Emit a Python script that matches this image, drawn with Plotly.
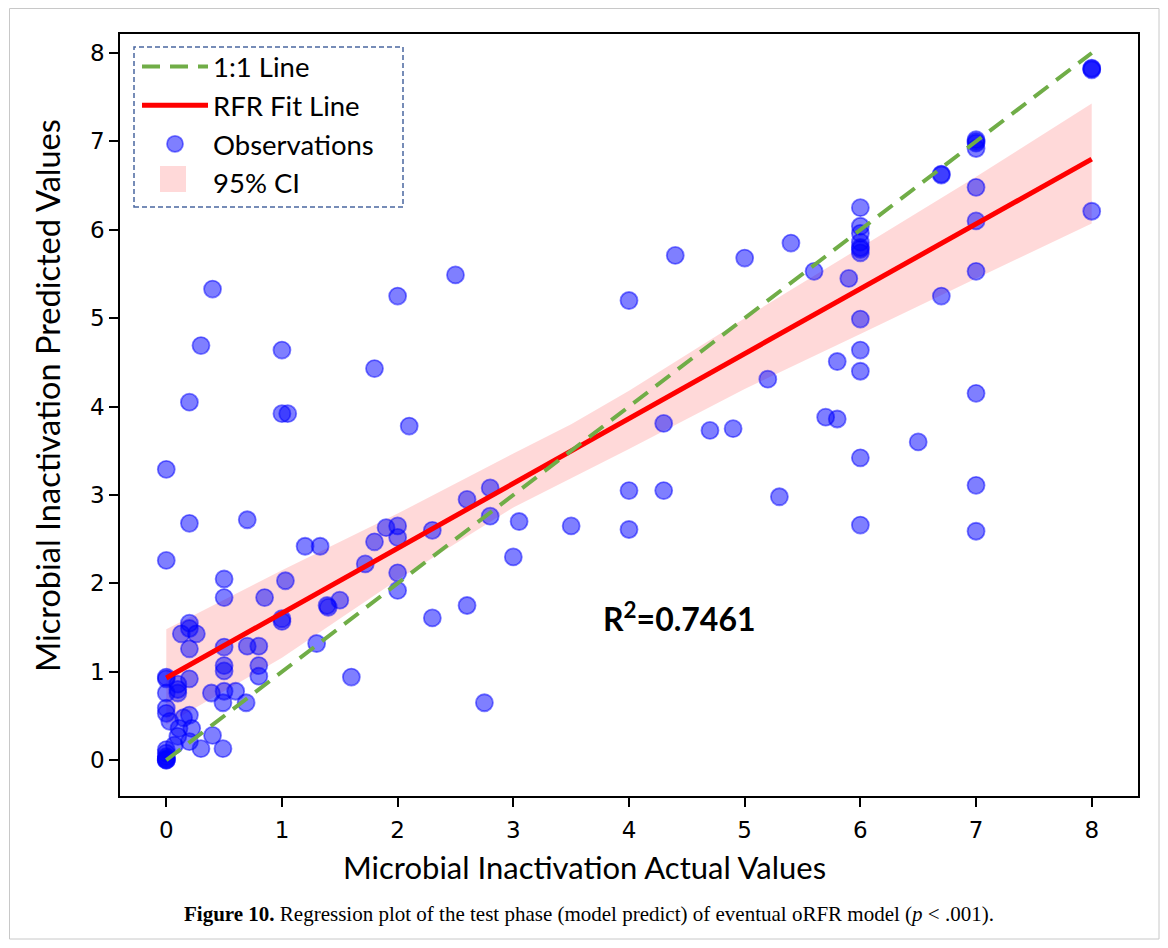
import plotly.graph_objects as go

# Observations (actual, predicted)
obs_x = [0, 0, 0, 0, 0, 0, 0, 0, 0, 0, 0, 0, 0, 0, 0.03,
         0.1, 0.1, 0.1, 0.11, 0.1, 0.07, 0.15, 0.2, 0.22, 0.2, 0.3, 0.4, 0.49,
         0.2, 0.13, 0.26, 0.2, 0.2, 0.2,
         0.39, 0.5, 0.6, 0.49, 0.69,
         0.5, 0.5, 0.5, 0.7, 0.8, 0.8, 0.8,
         0.5, 0.5, 0.85, 1.03, 1.0, 1.0,
         0.4, 0.3, 1.0, 0.2, 1.0, 1.05, 0.2, 0.7,
         1.2, 1.33, 1.3, 1.6, 1.39, 1.4, 1.5,
         1.72, 1.8, 1.9, 2.0, 2.0, 2.0, 2.0, 2.3, 2.3,
         2.0, 1.8, 2.1, 2.5,
         2.6, 2.8, 2.8, 3.05, 3.0, 3.5, 2.6, 2.75,
         4.0, 4.4, 5.0, 5.4, 5.6, 5.9,
         5.2, 5.8, 4.3, 4.7, 4.9, 5.7, 5.8,
         4.0, 4.3, 4.0, 5.3,
         6, 6, 6, 6, 6, 6, 6, 6, 6, 6, 6, 6,
         6.5, 6.7, 6.7, 6.7,
         7, 7, 7, 7, 7, 7, 7, 7, 7, 7,
         8, 8, 8, 8]
obs_y = [3.29, 2.26, 0.94, 0.92, 0.76, 0.59, 0.53, 0.12, 0.08, 0.04, 0.0, 0.0, 0.01, 0.02, 0.44,
         0.86, 0.8, 0.76, 0.36, 0.27, 0.17, 0.48, 0.51, 0.36, 0.21, 0.13, 0.28, 0.13,
         0.92, 1.43, 1.43, 1.55, 1.49, 1.26,
         0.76, 0.78, 0.78, 0.65, 0.65,
         1.07, 1.01, 1.28, 1.29, 1.29, 1.07, 0.95,
         2.05, 1.84, 1.84, 2.03, 1.6, 1.57,
         5.33, 4.69, 4.64, 4.05, 3.92, 3.92, 2.68, 2.72,
         2.42, 2.42, 1.32, 0.94, 1.75, 1.73, 1.81,
         2.22, 2.47, 2.63, 2.65, 2.52, 2.12, 1.92, 2.6, 1.61,
         5.25, 4.43, 3.78, 5.49,
         2.95, 3.08, 2.76, 2.7, 2.3, 2.65, 1.75, 0.65,
         5.2, 5.71, 5.68, 5.85, 5.53, 5.45,
         4.31, 4.51, 3.81, 3.73, 3.75, 3.88, 3.86,
         3.05, 3.05, 2.61, 2.98,
         6.25, 6.04, 5.96, 5.86, 5.8, 5.74, 5.78, 4.99, 4.64, 4.4, 3.42, 2.66,
         3.6, 6.63, 6.62, 5.25,
         7.02, 7.0, 6.98, 6.92, 6.48, 6.1, 5.53, 4.15, 3.11, 2.59,
         7.83, 7.82, 7.81, 6.21]

# 1:1 reference line
ref_x = [0, 8]
ref_y = [0, 8]

# RFR fit line
fit_x = [0, 8]
fit_y = [0.93, 6.8]

# 95% confidence band
ci_x = [0, 1, 2, 3, 3.5, 4, 5, 6, 7, 8]
ci_lower = [0.40, 1.16, 2.04, 2.86, 3.19, 3.52, 4.20, 4.82, 5.45, 6.07]
ci_upper = [1.48, 2.15, 2.79, 3.47, 3.80, 4.18, 5.00, 5.80, 6.60, 7.43]

# axis ticks
ticks = [0, 1, 2, 3, 4, 5, 6, 7, 8]

# page offset of the figure (body margin) and figure size
OFF = 8
W, H = 1152, 932
L, T = 120 - OFF, 34 - OFF
R = OFF + W - 1138
B = OFF + H - 796
pw, ph = W - L - R, H - T - B


def px(page_x):
    return (page_x - OFF - L) / pw


def py(page_y):
    return (OFF + H - B - page_y) / ph


CI_FILL = "rgba(255,0,0,0.15)"

fig = go.Figure()

fig.add_trace(go.Scatter(x=ci_x, y=ci_lower, mode="lines", line=dict(width=0, color="rgba(255,0,0,0)"),
                         showlegend=False, hoverinfo="skip"))
fig.add_trace(go.Scatter(x=ci_x, y=ci_upper, mode="lines", line=dict(width=0, color="rgba(255,0,0,0)"),
                         fill="tonexty", fillcolor=CI_FILL, showlegend=False, hoverinfo="skip"))
fig.add_trace(go.Scatter(x=obs_x, y=obs_y, mode="markers", name="Observations", legendrank=3,
                         marker=dict(size=17, color="rgba(0,0,255,0.5)",
                                     line=dict(width=1.8, color="rgba(0,0,255,0.5)"))))
fig.add_trace(go.Scatter(x=fit_x, y=fit_y, mode="lines", name="RFR Fit Line", legendrank=2,
                         line=dict(color="#ff0000", width=5)))
fig.add_trace(go.Scatter(x=ref_x, y=ref_y, mode="lines", name="1:1 Line", legendrank=1,
                         line=dict(color="#70ad47", width=4, dash="18px,10px")))
# legend entry for the confidence band (its swatch is drawn as a larger square below)
fig.add_trace(go.Scatter(x=[None], y=[None], mode="markers", name="95% CI", legendrank=4,
                         marker=dict(symbol="square", size=16, color="rgba(255,0,0,0)",
                                     line=dict(width=0))))

axis_common = dict(showgrid=False, zeroline=False, showline=True, linecolor="black", linewidth=1.5,
                   mirror=True, ticks="outside", ticklen=9, tickwidth=1.5, tickcolor="black",
                   tickvals=ticks, ticktext=[str(t) for t in ticks],
                   tickfont=dict(family="DejaVu Sans", size=23, color="black"))

fig.update_layout(
    width=W, height=H,
    margin=dict(l=L, r=R, t=T, b=B),
    paper_bgcolor="white", plot_bgcolor="white",
    xaxis=dict(range=[-0.4, 8.4], ticklabelstandoff=4, **axis_common),
    yaxis=dict(range=[-0.405, 8.215], **axis_common),
    legend=dict(x=px(137), y=py(42), xanchor="left", yanchor="top", bgcolor="rgba(0,0,0,0)",
                borderwidth=0, font=dict(family="Lato", size=27.5, color="black"), itemwidth=66,
                traceorder="normal"),
    showlegend=True,
)

# dashed legend frame
fig.add_shape(type="rect", xref="paper", yref="paper", x0=px(134), x1=px(403), y0=py(207), y1=py(47),
              line=dict(color="#4a67a0", width=1.5, dash="5px,3px"), fillcolor="rgba(0,0,0,0)", layer="above")
# 95% CI legend swatch
fig.add_shape(type="rect", xref="paper", yref="paper", x0=px(160), x1=px(186), y0=py(192), y1=py(166),
              line=dict(width=0), fillcolor=CI_FILL, layer="above")
# outer page frame
fig.add_shape(type="rect", xref="paper", yref="paper", x0=px(9.5), x1=px(1159), y0=py(939), y1=py(8.5),
              line=dict(color="#c8c8c8", width=1), fillcolor="rgba(0,0,0,0)")

# axis titles
fig.add_annotation(x=px(584), y=py(867), xref="paper", yref="paper", showarrow=False,
                   xanchor="center", yanchor="middle",
                   text="Microbial Inactivation Actual Values",
                   font=dict(family="Lato", size=31, color="black"))
fig.add_annotation(x=px(47), y=py(396), xref="paper", yref="paper", showarrow=False, textangle=-90,
                   xanchor="center", yanchor="middle",
                   text="Microbial Inactivation Predicted Values",
                   font=dict(family="Lato", size=32.5, color="black"))

fig.add_annotation(x=4.44, y=1.62, xref="x", yref="y", text="<b>R<sup>2</sup>=0.7461</b>", showarrow=False,
                   xanchor="center", yanchor="middle",
                   font=dict(family="Lato", size=32, color="black"))
fig.add_annotation(x=px(589), y=py(914), xref="paper", yref="paper", showarrow=False,
                   xanchor="center", yanchor="middle",
                   text="<b>Figure 10.</b> Regression plot of the test phase (model predict) of eventual oRFR model (<i>p</i> &lt; .001).",
                   font=dict(family="Liberation Serif", size=21, color="black"))

fig.write_html("out.html")
